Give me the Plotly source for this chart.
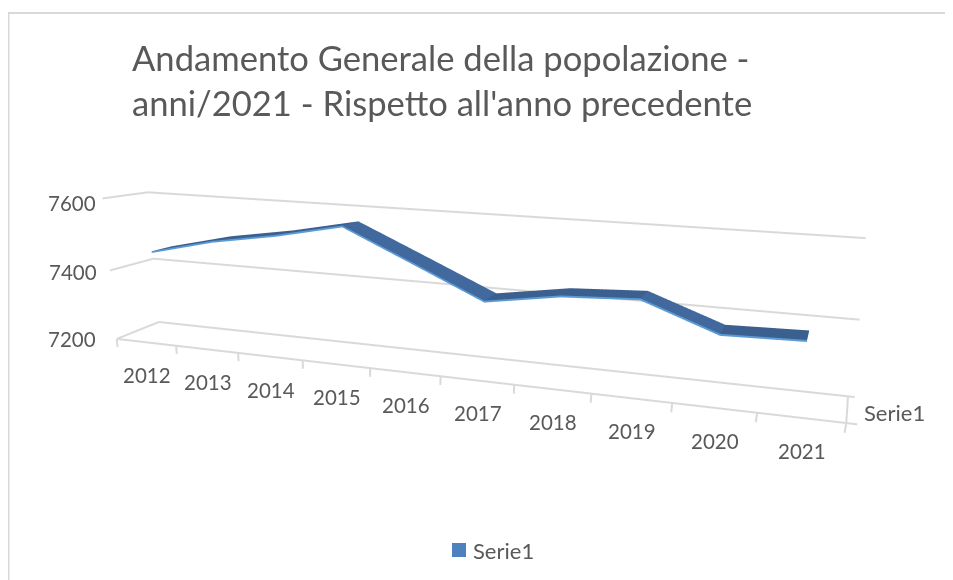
import plotly.graph_objects as go

W, H = 953, 580
title = "Andamento Generale della popolazione -<br>anni/2021 - Rispetto all'anno precedente"
years = ["2012","2013","2014","2015","2016","2017","2018","2019","2020","2021"]
values = [7452,7495,7525,7563,7480,7396,7427,7437,7367,7372]
z_ticks = [7200,7400,7600]
series_name = "Serie1"

GRID="#d9d9d9"; TXT="#595959"; FONT="Lato"
n=len(years)
back_ends={7200:n+.25,7400:n+.23,7600:n+.14}
a_front, a_back = 0.3, 0.78
back_stretch = 1.012
thick = 5
cx=[i+.5 for i in range(n)]

# ribbon mesh: top face and thin front face
vx,vy,vz=[],[],[]
for x,v in zip(cx,values):
    vx+=[x,x*back_stretch,x]; vy+=[a_front,a_back,a_front]; vz+=[v,v,v-thick]
I,J,K,C=[],[],[],[]
for s in range(n-1):
    a=3*s; b=3*(s+1)
    steep = values[s]-values[s+1]>60
    top = "#41699e" if steep else "#3b5f8e"
    I+=[a,a]; J+=[a+1,b+1]; K+=[b+1,b]; C+=[top,top]
    I+=[a,a]; J+=[b,b+2]; K+=[b+2,a+2]; C+=["#5b9bd5","#5b9bd5"]

gx,gy,gz=[],[],[]
def seg(p,q):
    gx.extend([p[0],q[0],None]); gy.extend([p[1],q[1],None]); gz.extend([p[2],q[2],None])
z0=z_ticks[0]
e0=back_ends[z0]
seg((0,0,z0),(n,0,z0)); seg((n,0,z0),(e0,1,z0)); seg((e0,1,z0),(0,1,z0)); seg((0,1,z0),(0,0,z0))
for z in z_ticks[1:]:
    seg((0,0,z),(0,1,z)); seg((0,1,z),(back_ends[z],1,z))
for i in range(n+1):
    seg((i,0,z0),(i,0,z0-24))
seg((n,0,z0),(n+.12,0,z0)); seg((e0,1,z0),(e0+.08,1,z0))

fig=go.Figure()
fig.add_trace(go.Scatter3d(x=gx,y=gy,z=gz,mode="lines",line=dict(color=GRID,width=4),showlegend=False,hoverinfo="skip"))
fig.add_trace(go.Mesh3d(x=vx,y=vy,z=vz,i=I,j=J,k=K,facecolor=C,flatshading=True,showlegend=False,
    lighting=dict(ambient=1,diffuse=0,specular=0,fresnel=0)))

ann=[dict(x=x,y=0,z=z0,text=t,showarrow=False,xshift=1,yshift=-33,font=dict(family=FONT,size=20.5,color=TXT)) for x,t in zip(cx,years)]
for z,xs,ys in zip(z_ticks,[-19,-11,-5],[0,-2,-5]):
    ann.append(dict(x=0,y=0,z=z,text=str(z),showarrow=False,xanchor="right",xshift=xs,yshift=ys,font=dict(family=FONT,size=20.5,color=TXT)))
ann.append(dict(x=n,y=.5,z=z0,text=series_name,showarrow=False,xanchor="left",xshift=26,yshift=-5,font=dict(family=FONT,size=22,color=TXT)))

ex,ey,ez,ccx,ccy,ccz,ay,az,ux,uy=0.2439,-0.8927,0.2302,0.0347,0.0504,-0.0165,0.0942,0.2077,-0.0015,-0.1427
fig.update_layout(width=W,height=H,margin=dict(l=0,r=0,t=0,b=0),paper_bgcolor="white",showlegend=False,
  title=dict(text=title,x=124/W,xanchor="left",y=1-63/H,yanchor="top",font=dict(family=FONT,size=34.6,color=TXT)),
  shapes=[dict(type="line",xref="paper",yref="paper",x0=.5/W,x1=.5/W,y0=0,y1=1-5/H,line=dict(color=GRID,width=2)),
          dict(type="line",xref="paper",yref="paper",x0=0,x1=1,y0=1-5/H,y1=1-5/H,line=dict(color=GRID,width=2)),
          dict(type="rect",xref="paper",yref="paper",x0=444/W,x1=458/W,y0=1-549/H,y1=1-535/H,fillcolor="#4f81bd",line=dict(width=0))],
  annotations=[dict(text=series_name,xref="paper",yref="paper",x=463/W,y=1-542/H,xanchor="left",yanchor="middle",showarrow=False,font=dict(family=FONT,size=22,color=TXT))],
  scene=dict(domain=dict(x=[0,1],y=[0,1]),dragmode="orbit",aspectmode="manual",
    aspectratio=dict(x=1.2,y=ay*2,z=az*1.5),annotations=ann,
    camera=dict(eye=dict(x=ex,y=ey,z=ez),center=dict(x=ccx,y=ccy,z=ccz),up=dict(x=ux,y=uy,z=1)),
    xaxis=dict(visible=False,range=[-1,n+1]),yaxis=dict(visible=False,range=[-.5,1.5]),zaxis=dict(visible=False,range=[7100,7700])))
fig.write_html("out.html")
